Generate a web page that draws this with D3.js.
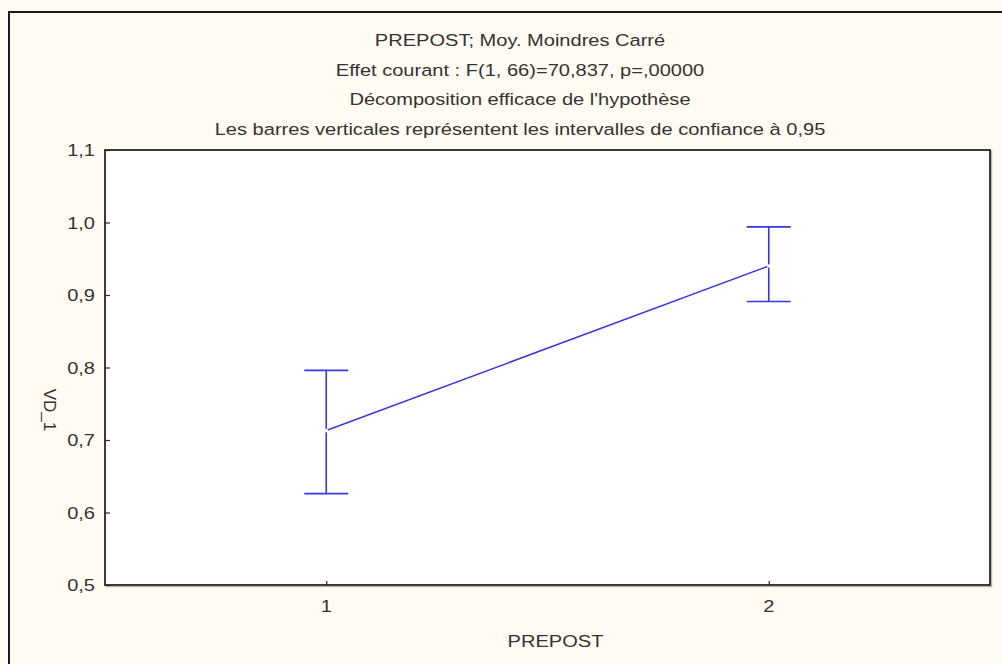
<!DOCTYPE html>
<html>
<head>
<meta charset="utf-8">
<script src="https://cdn.jsdelivr.net/npm/d3@7"></script>
<style>
  html, body { margin: 0; padding: 0; background: #fffbf2; }
  svg { display: block; }
  text { font-family: "Liberation Sans", Arial, sans-serif; fill: #333333; }
</style>
</head>
<body>
<svg id="chart" width="1002" height="664"></svg>
<script>
// Least-squares means of VD_1 by PREPOST level, with 95% confidence bounds
const levels = [1, 2];
const means = [0.713, 0.940];
const lower = [0.626, 0.891];
const upper = [0.796, 0.994];

const yTicks = [0.5, 0.6, 0.7, 0.8, 0.9, 1.0, 1.1];
const yTickLabels = ["0,5", "0,6", "0,7", "0,8", "0,9", "1,0", "1,1"];
const xTickLabels = ["1", "2"];

const titleLines = [
  "PREPOST; Moy. Moindres Carré",
  "Effet courant : F(1, 66)=70,837, p=,00000",
  "Décomposition efficace de l'hypothèse",
  "Les barres verticales représentent les intervalles de confiance à 0,95"
];
const xTitle = "PREPOST";
const yTitle = "VD_1";

const svg = d3.select("#chart");
const plot = { left: 105, top: 150, right: 990, bottom: 585 };
const FS = 17;       // font size
const SX = 1.18;     // horizontal widening of the lettering

// place a text node at (px, py) with widened glyphs
function put(sel, px, py) {
  return sel.attr("transform", `translate(${px},${py}) scale(${SX},1)`);
}

// outer frame
svg.append("rect")
  .attr("x", 9).attr("y", 12).attr("width", 1100).attr("height", 800)
  .attr("fill", "#fffbf2").attr("stroke", "#1a1a1a").attr("stroke-width", 2);

const x = d3.scaleLinear().domain([0.5, 2.5]).range([plot.left, plot.right]);
const y = d3.scaleLinear().domain([0.5, 1.1]).range([plot.bottom, plot.top]);

// plot area with a soft shadow
svg.append("rect")
  .attr("x", plot.left + 1.5).attr("y", plot.top + 1.5)
  .attr("width", plot.right - plot.left).attr("height", plot.bottom - plot.top)
  .attr("fill", "none").attr("stroke", "#b8b8b8").attr("stroke-width", 1.5);
svg.append("rect")
  .attr("x", plot.left).attr("y", plot.top)
  .attr("width", plot.right - plot.left).attr("height", plot.bottom - plot.top)
  .attr("fill", "#ffffff").attr("stroke", "#262626").attr("stroke-width", 1.8);

// y axis: ticks point into the plot
const yAxis = d3.axisRight(y)
  .tickValues(yTicks)
  .tickSize(5)
  .tickFormat("");
svg.append("g")
  .attr("transform", `translate(${plot.left},0)`)
  .call(yAxis)
  .call(g => g.select(".domain").remove())
  .call(g => g.selectAll(".tick line").attr("stroke", "#2a2a2a").attr("stroke-width", 1.2));

svg.append("g").selectAll("text")
  .data(yTicks)
  .join("text")
  .each(function (d) { put(d3.select(this), plot.left - 10, y(d) + 6); })
  .attr("text-anchor", "end")
  .attr("font-size", FS)
  .text((d, i) => yTickLabels[i]);

// x axis: ticks point into the plot
const xAxis = d3.axisTop(x)
  .tickValues(levels)
  .tickSize(4)
  .tickFormat("");
svg.append("g")
  .attr("transform", `translate(0,${plot.bottom})`)
  .call(xAxis)
  .call(g => g.select(".domain").remove())
  .call(g => g.selectAll(".tick line").attr("stroke", "#2a2a2a").attr("stroke-width", 1.2));

svg.append("g").selectAll("text")
  .data(levels)
  .join("text")
  .each(function (d) { put(d3.select(this), x(d), plot.bottom + 27); })
  .attr("text-anchor", "middle")
  .attr("font-size", FS)
  .text((d, i) => xTickLabels[i]);

// titles
svg.append("g").selectAll("text")
  .data(titleLines)
  .join("text")
  .each(function (d, i) { put(d3.select(this), 520, 46 + i * 29.5); })
  .attr("text-anchor", "middle")
  .attr("font-size", FS)
  .text(d => d);

put(svg.append("text"), (plot.left + plot.right) / 2 + 8, 647)
  .attr("text-anchor", "middle")
  .attr("font-size", FS)
  .text(xTitle);

svg.append("text")
  .attr("transform", `translate(44,410) rotate(90)`)
  .attr("text-anchor", "middle")
  .attr("font-size", FS)
  .text(yTitle);

// means and confidence intervals
const blue = "#3636e2";
const pts = levels.map((l, i) => ({ l, m: means[i], lo: lower[i], hi: upper[i] }));

svg.append("path")
  .datum(pts)
  .attr("fill", "none")
  .attr("stroke", blue)
  .attr("stroke-width", 1.6)
  .attr("d", d3.line().x(d => x(d.l)).y(d => y(d.m)));

const capHalf = 22;
const bars = svg.append("g").attr("stroke", blue).attr("stroke-width", 1.6);
bars.selectAll("line.v").data(pts).join("line").attr("class", "v")
  .attr("x1", d => x(d.l)).attr("x2", d => x(d.l))
  .attr("y1", d => y(d.lo)).attr("y2", d => y(d.hi));
bars.selectAll("line.top").data(pts).join("line").attr("class", "top")
  .attr("x1", d => x(d.l) - capHalf).attr("x2", d => x(d.l) + capHalf)
  .attr("y1", d => y(d.hi)).attr("y2", d => y(d.hi));
bars.selectAll("line.bot").data(pts).join("line").attr("class", "bot")
  .attr("x1", d => x(d.l) - capHalf).attr("x2", d => x(d.l) + capHalf)
  .attr("y1", d => y(d.lo)).attr("y2", d => y(d.lo));

// small hollow point markers at the means
svg.append("g").selectAll("circle").data(pts).join("circle")
  .attr("cx", d => x(d.l)).attr("cy", d => y(d.m))
  .attr("r", 1.8).attr("fill", "#ffffff").attr("stroke", "none");
</script>
</body>
</html>
